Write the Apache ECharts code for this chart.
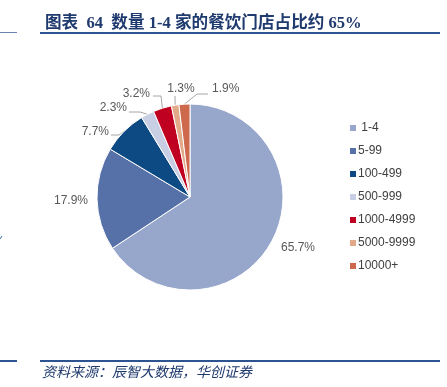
<!DOCTYPE html>
<html><head><meta charset="utf-8">
<script src="https://cdn.jsdelivr.net/npm/echarts@6/dist/echarts.min.js"></script>
<style>html,body{margin:0;padding:0;background:#fff}#c{width:447px;height:387px}</style>
</head><body><div id="c"></div>
<script>
const categories = ['1-4','5-99','100-499','500-999','1000-4999','5000-9999','10000+'];
const shares = [65.7, 17.9, 7.7, 2.3, 3.2, 1.3, 1.9];
const colors = ['#97A6CB','#5670A8','#0D4A83','#C8CFE4','#C00020','#E3AA8A','#CD6A4E'];
const titleText = '图表  64  数量 1-4 家的餐饮门店占比约 65%';
const sourceText = '资料来源：辰智大数据，华创证券';

// label placement (style only): [x, y, align, bend point or null, line end or null]
const labelPlace = [
  [281, 248, 'left', null, null],
  [88, 201, 'right', null, null],
  [109, 132, 'right', [119, 135], [111, 135]],
  [127, 108, 'right', [140, 112], [129, 112]],
  [150, 94, 'right', [161, 96], [153, 96]],
  [181, 89, 'center', null, [175, 96]],
  [212, 89, 'left', [197, 94], [208, 94]]
];

const chart = echarts.init(document.getElementById('c'));
const data = categories.map((n, i) => {
  const d = { name: n, value: shares[i], itemStyle: { color: colors[i] } };
  if (i < 2) { d.labelLine = { show: false }; }
  return d;
});
chart.setOption({
  animation: false,
  title: {
    text: titleText, left: 40, top: 10,
    textStyle: { fontFamily: '"Liberation Serif","Noto Sans CJK SC",serif', fontWeight: 'bold', fontSize: 16.6, color: '#1F3A6E' }
  },
  graphic: [
    { type: 'rect', shape: { x: 40, y: 32, width: 400, height: 2 }, style: { fill: '#2E5391' } },
    { type: 'rect', shape: { x: 0, y: 32, width: 17, height: 1 }, style: { fill: '#6C84B0' } },
    { type: 'rect', shape: { x: 40, y: 360, width: 400, height: 2 }, style: { fill: '#2E5391' } },
    { type: 'rect', shape: { x: 0, y: 360, width: 17, height: 2 }, style: { fill: '#2E5391' } },
    { type: 'line', shape: { x1: 0, y1: 239, x2: 2, y2: 236 }, style: { stroke: '#3A6EA5', lineWidth: 1 } },
    { type: 'text', left: 42, top: 365, style: { text: sourceText, font: 'italic 14px "Noto Sans CJK SC", sans-serif', fill: '#1F3A6E' } }
  ],
  legend: {
    orient: 'vertical', left: 343, top: 117,
    itemWidth: 8, itemHeight: 8, itemGap: 11,
    icon: 'rect',
    formatter: n => n === '1-4' ? ' 1-4' : n,
    textStyle: { fontFamily: '"Liberation Sans", Arial, sans-serif', fontSize: 12, color: '#404040', padding: [0,0,0,-4] },
    data: categories
  },
  series: [{
    type: 'pie',
    center: [190, 197],
    radius: [0, 93],
    startAngle: 90,
    clockwise: true,
    avoidLabelOverlap: false,
    itemStyle: { borderColor: '#fff', borderWidth: 1 },
    label: {
      show: true, position: 'outside',
      formatter: p => p.value.toFixed(1) + '%',
      fontFamily: '"Liberation Sans", Arial, sans-serif', fontSize: 12, color: '#595959'
    },
    labelLine: { show: true, length: 10, length2: 12, lineStyle: { color: '#A6A6A6', width: 1 } },
    labelLayout: function (params) {
      const pl = labelPlace[params.dataIndex];
      const out = { x: pl[0], y: pl[1], align: pl[2], verticalAlign: 'middle', moveOverlap: null };
      if (params.labelLinePoints && pl[4]) {
        const p0 = params.labelLinePoints[0];
        out.labelLinePoints = pl[3] ? [p0, pl[3], pl[4]] : [p0, pl[4], pl[4]];
      }
      return out;
    },
    data: data
  }]
});
</script></body></html>
